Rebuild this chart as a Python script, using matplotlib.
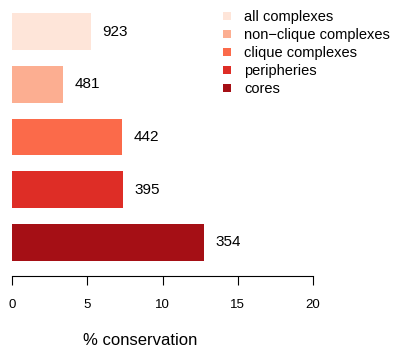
import matplotlib.pyplot as plt
from matplotlib.patches import Patch

plt.rcParams['font.family'] = ['Liberation Sans', 'DejaVu Sans']

# data, top to bottom
categories = ['all complexes', 'non\u2212clique complexes', 'clique complexes',
              'peripheries', 'cores']
conservation = [5.25, 3.39, 7.31, 7.37, 12.76]
counts = [923, 481, 442, 395, 354]
colors = ['#FEE5D9', '#FCAE91', '#FB6A4A', '#DE2D26', '#A50F15']

fig = plt.figure(figsize=(3.93, 3.51), dpi=100)
ax = fig.add_axes([12 / 393, 75.3 / 351, 301 / 393, 275.7 / 351])

n = len(categories)
ypos = [n - 1 - i for i in range(n)]
ax.barh(ypos, conservation, height=0.7, color=colors, edgecolor='none')

for y, v, c in zip(ypos, conservation, counts):
    ax.text(v + 0.75, y, str(c), ha='left', va='center', fontsize=11)

ax.set_xlim(0, 20)
ax.set_ylim(-0.634, 4.602)
ax.set_xticks([0, 5, 10, 15, 20])
ax.set_yticks([])
for s in ['top', 'right', 'left']:
    ax.spines[s].set_visible(False)
ax.spines['bottom'].set_linewidth(0.8)
ax.tick_params(axis='x', length=6.5, width=0.8, pad=10, labelsize=9.5)
ax.set_xlabel('% conservation', fontsize=12)
ax.xaxis.set_label_coords(0.425, -0.235)
ax.xaxis.label.set_va('center')

handles = [Patch(facecolor=c, edgecolor='none') for c in colors]
fig.legend(handles, categories, loc='upper left', bbox_to_anchor=(223 / 393, 1 - 10 / 351),
           frameon=False, fontsize=10.5, handlelength=0.52, handleheight=0.52,
           handletextpad=0.95, labelspacing=0.28, borderpad=0, borderaxespad=0)

fig.savefig('out.png', dpi=100)
